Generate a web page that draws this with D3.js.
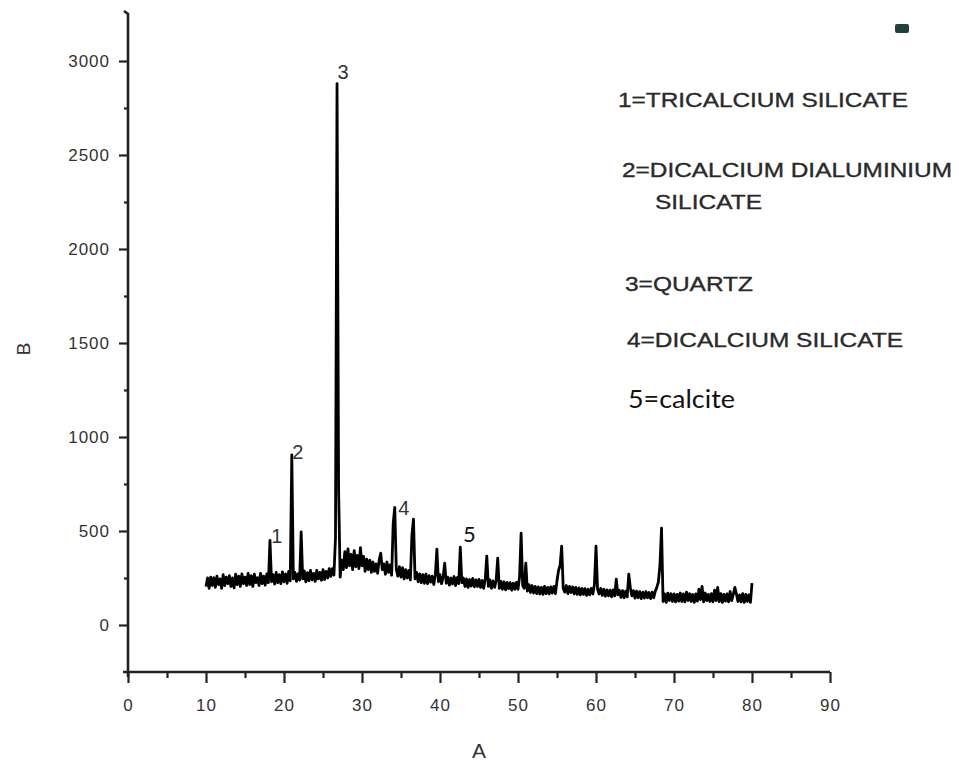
<!DOCTYPE html>
<html><head><meta charset="utf-8">
<script src="https://cdn.jsdelivr.net/npm/d3@7/dist/d3.min.js"></script>
<style>body{margin:0;background:#fff}svg{display:block}</style>
</head><body><svg id="c" width="959" height="765"></svg>
<script>
// 2-theta grid (10 to 80, step 0.2) and intensities, one row per degree
const thetaStart = 10, thetaStep = 0.2;
const intensity = [
 205,250,195,255,210, 252,200,260,215,245, 195,268,210,255,220, 262,205,250,198,270,
 215,260,205,272,220, 255,210,275,215,262, 205,270,225,252,210, 275,220,260,212,272,
 225,450,230,268,218, 280,225,268,220,282, 230,272,222,285,235, 905,245,280,232,272,
 238,495,245,288,230, 278,235,290,240,275, 232,290,245,280,238, 295,242,285,250,300,
 258,300,265,462,2880, 715,255,345,295,390, 305,405,315,375,295, 395,310,370,300,412,
 315,365,285,350,295, 345,280,335,285,325, 275,345,382,295,325, 270,335,280,320,265,
 540,626,295,260,310, 255,305,245,295,250, 290,240,478,563,245, 280,230,272,225,268,
 222,270,220,262,228, 260,215,265,403,230, 268,220,255,329,222, 255,212,250,218,258,
 210,252,220,414,225, 250,205,245,200,242, 207,248,203,240,205, 243,200,237,195,245,
 366,205,240,195,235, 200,237,356,195,232, 190,230,187,227,193, 225,185,223,190,227,
 190,255,488,210,195, 329,180,215,173,210, 170,205,167,203,165, 200,163,205,167,200,
 165,203,170,205,167, 235,290,318,419,195, 175,210,167,205,173, 203,165,200,163,197,
 160,195,163,193,157, 190,160,195,165,215, 419,190,165,195,157, 190,153,187,155,185,
 150,187,155,244,160, 185,147,183,145,180, 150,271,200,155,183, 143,180,145,177,140,
 175,143,177,145,173, 140,175,145,180,200, 230,318,515,125,165, 120,170,130,167,125,
 165,123,163,127,170, 125,165,123,175,130, 167,125,163,120,165, 127,190,135,205,123,
 170,130,163,125,167, 123,185,130,200,125, 167,120,163,127,165, 123,178,130,163,200,
 165,125,160,123,167, 120,163,125,160,120, 223
];
const xTicks = [0,10,20,30,40,50,60,70,80,90];
const xMinor = [5,15,25,35,45,55,65,75,85];
const yTicks = [0,500,1000,1500,2000,2500,3000];
const yMinor = [250,750,1250,1750,2250,2750];
const peakLabels = ["1","2","3","4","5"];
const peakLabelX = [18.35,21.05,26.85,34.65,42.95];
const peakLabelY = [435,881,2905,584,440];
const legendLines = ["1=TRICALCIUM SILICATE","2=DICALCIUM DIALUMINIUM","SILICATE","3=QUARTZ","4=DICALCIUM SILICATE","5=calcite"];

const svg = d3.select("#c");
const x = d3.scaleLinear().domain([0,90]).range([128,830]);
const y = d3.scaleLinear().domain([-250,3250]).range([672,14]);
const data = intensity.map((v,i)=>({t: thetaStart + i*thetaStep, v}));

const tickFont = "'Liberation Sans', Arial, sans-serif";
const axisCol = "#222";

// minor ticks
svg.append("g").attr("transform",`translate(0,${y(-250)})`)
  .call(d3.axisBottom(x).tickValues(xMinor).tickSize(6).tickFormat(""))
  .call(g=>g.select(".domain").remove())
  .call(g=>g.selectAll("line").attr("stroke",axisCol).attr("stroke-width",2.2));
svg.append("g").attr("transform",`translate(${x(0)},0)`)
  .call(d3.axisLeft(y).tickValues(yMinor).tickSize(4).tickFormat(""))
  .call(g=>g.select(".domain").remove())
  .call(g=>g.selectAll("line").attr("stroke",axisCol).attr("stroke-width",2.2));

// major
svg.append("g").attr("transform",`translate(0,${y(-250)})`)
  .call(d3.axisBottom(x).tickValues(xTicks).tickSize(11).tickPadding(16).tickFormat(d3.format("d")))
  .call(g=>g.select(".domain").remove())
  .call(g=>g.selectAll("line").attr("stroke",axisCol).attr("stroke-width",2.2))
  .call(g=>g.selectAll("text").attr("font-family",tickFont).attr("font-size",17)
        .attr("letter-spacing","1px").attr("fill","#333"));
svg.append("g").attr("transform",`translate(${x(0)},0)`)
  .call(d3.axisLeft(y).tickValues(yTicks).tickSize(9).tickPadding(9).tickFormat(d3.format("d")))
  .call(g=>g.select(".domain").remove())
  .call(g=>g.selectAll("line").attr("stroke",axisCol).attr("stroke-width",2.2))
  .call(g=>g.selectAll("text").attr("font-family",tickFont).attr("font-size",17)
        .attr("letter-spacing","1px").attr("fill","#333"));

// axis lines
svg.append("path").attr("fill","none").attr("stroke",axisCol).attr("stroke-width",2.6)
  .attr("d",`M${x(0)-4},${y(3250)-3} L${x(0)},${y(3250)} L${x(0)},${y(-250)+5}`);
svg.append("path").attr("fill","none").attr("stroke",axisCol).attr("stroke-width",2.6)
  .attr("d",`M${x(0)-5},${y(-250)} L${x(90)},${y(-250)}`);

// data line
svg.append("path").datum(data).attr("fill","none").attr("stroke","#000")
  .attr("stroke-width",2.8).attr("stroke-linejoin","round")
  .attr("d", d3.line().x(d=>x(d.t)).y(d=>y(d.v)));

// peak labels
svg.append("g").selectAll("text").data(peakLabels).join("text")
  .attr("x",(d,i)=>x(peakLabelX[i])).attr("y",(d,i)=>y(peakLabelY[i]))
  .attr("font-family",(d,i)=> i===4 ? "Lato, 'Open Sans', sans-serif" : tickFont)
  .attr("font-size",(d,i)=> i===4 ? 22 : 20)
  .attr("fill",(d,i)=> i===4 ? "#111" : "#333")
  .text(d=>d);

// axis titles
svg.append("text").attr("x",x(45)).attr("y",758).attr("text-anchor","middle")
  .attr("font-family",tickFont).attr("font-size",21).attr("fill","#333").text("A");
svg.append("text").attr("transform",`translate(30,${y(1500)+6}) rotate(-90)`)
  .attr("text-anchor","middle").attr("font-family",tickFont).attr("font-size",19)
  .attr("fill","#333").text("B");

// legend text
const legX = [618,622,655,625,627,628];
const legY = [107,177,209,291,347,408];
const legW = [290,330,107,128,276,107];
const lg = svg.append("g");
legendLines.forEach((t,i)=>{
  const last = i===legendLines.length-1;
  lg.append("text").attr("x",legX[i]).attr("y",legY[i])
    .attr("font-family", last ? "Lato, 'Open Sans', sans-serif" : tickFont)
    .attr("font-size", last ? 25 : 20)
    .attr("fill", last ? "#111" : "#2a2a2a")
    .attr("stroke", last ? "none" : "#2a2a2a").attr("stroke-width",0.35)
    .attr("textLength",legW[i]).attr("lengthAdjust","spacingAndGlyphs")
    .text(t);
});
// small mark at top right
svg.append("rect").attr("x",895).attr("y",24).attr("width",14).attr("height",9)
  .attr("rx",2).attr("fill","#1e4040");
</script></body></html>
